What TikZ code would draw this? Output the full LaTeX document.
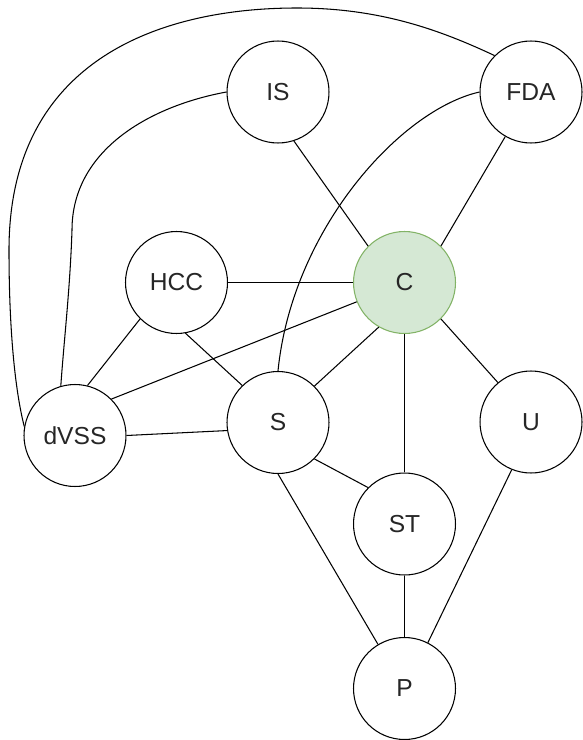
\documentclass[tikz,border=0pt]{standalone}
\usepackage{fontspec}
\setmainfont{Liberation Sans}
\usepackage{xcolor}
\definecolor{cfill}{HTML}{D5E8D4}
\definecolor{cline}{HTML}{82B366}
\begin{document}
\begin{tikzpicture}[x=0.02cm,y=-0.02cm,line width=0.6pt,
   vertex/.style={circle,draw,fill=white,minimum size=2.04cm,inner sep=0pt,
      text=black!85,font=\fontsize{14}{16}\selectfont}]
   \useasboundingbox (0,0) rectangle (582,740);
   \node[vertex] (IS) at (278,92) {IS};
   \node[vertex] (FDA) at (531,92) {FDA};
   \node[vertex] (HCC) at (176.5,282.5) {HCC};
   \node[vertex,fill=cfill,draw=cline] (C) at (404.5,282.5) {C};
   \node[vertex] (dVSS) at (75,435.5) {dVSS};
   \node[vertex] (S) at (278,422.5) {S};
   \node[vertex] (U) at (531,422) {U};
   \node[vertex] (ST) at (404.5,524) {ST};
   \node[vertex] (P) at (404.5,688.5) {P};
   % straight edges
   \draw (IS.288) -- (C.135);
   \draw (FDA.240) -- (C.45);
   \draw (HCC) -- (C);
   \draw (HCC.225) -- (dVSS.76);
   \draw (HCC.280) -- (S.134);
   \draw (C.202) -- (dVSS.45);
   \draw (C.240) -- (S.45);
   \draw (C.270) -- (ST.90);
   \draw (C.315) -- (U.130);
   \draw (dVSS.east) -- (S.189);
   \draw (S.315) -- (ST.135);
   \draw (S.270) -- (P.121);
   \draw (ST.270) -- (P.90);
   \draw (U.248) -- (P.63);
   % curved edges
   \draw (FDA.135) .. controls (440,30) and (380,8) .. (297,8)
      .. controls (160,8) and (9,60) .. (9,250)
      .. controls (9,330) and (15,390) .. (dVSS.170);
   \draw (IS.west) .. controls (150,106) and (72,150) .. (72,230)
      .. controls (70,290) and (64,340) .. (dVSS.106);
   \draw (FDA.west) .. controls (400,110) and (292,230) .. (S.north);
\end{tikzpicture}
\end{document}
